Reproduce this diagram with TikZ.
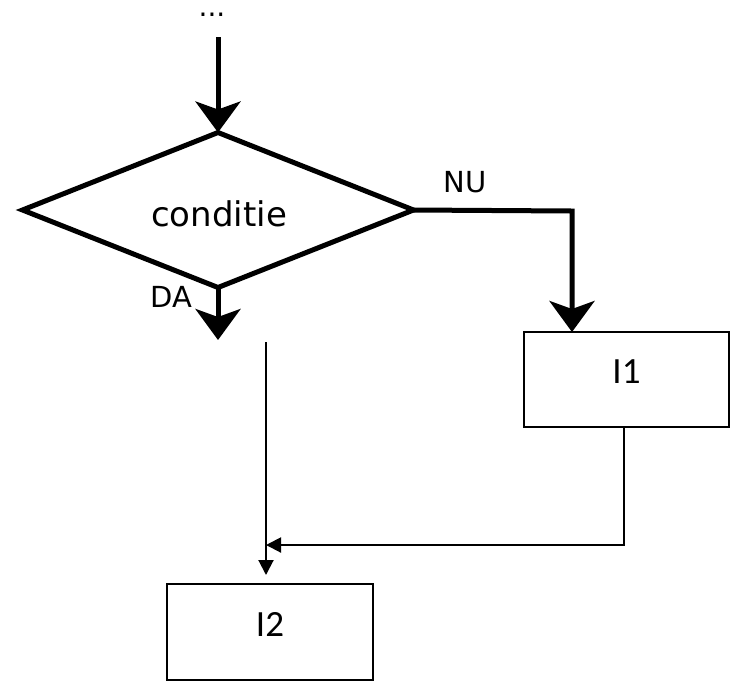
\documentclass[tikz,border=0pt]{standalone}
\usepackage{fontspec}
\setmainfont{DejaVu Sans}
\newfontfamily\boxfont{Carlito}
\usetikzlibrary{arrows.meta,shapes.geometric}
\begin{document}
\begin{tikzpicture}[x=1pt,y=-1pt,
  flowline/.style={line width=5pt},
  bighead/.style={-{Stealth[length=31pt,width=45pt,inset=8pt]}},
  thinline/.style={line width=2pt,-{Triangle[length=15pt,width=15pt]}},
  decision/.style={diamond, draw, line width=5pt, minimum width=391pt,
    minimum height=155pt, inner sep=0pt, outer sep=0pt,
    font=\fontsize{34}{38}\selectfont},
  stepbox/.style={rectangle, draw, line width=2pt, inner sep=0pt, outer sep=0pt,
    text depth=16pt, font=\boxfont\fontsize{37}{42}\selectfont},
  lbl/.style={font=\fontsize{29}{34}\selectfont, inner sep=0pt}]
\useasboundingbox (0,0) rectangle (730,681);

% continuation mark above the decision
\node[font=\fontsize{28}{32}\selectfont, inner sep=0pt, text height=5pt,
  anchor=base] (dots) at (212,16.5) {...};

% decision and the two instruction blocks
\node[decision] (cond) at (218,210) {};
\node[font=\fontsize{34}{38}\selectfont, inner sep=0pt] (condtext) at (219,214) {conditie};
\node[stepbox, minimum width=205pt, minimum height=95pt] (i1) at (626.5,379.5) {I1};
\node[stepbox, minimum width=206pt, minimum height=96pt] (i2) at (270,632) {I2};

% branch labels
\node[lbl] (da) at (171,297) {DA};
\node[lbl] (nu) at (465,182) {NU};

% free ends and bends of the connectors
\coordinate (start) at (218,37);
\coordinate (daend) at (218,340);
\coordinate (nuturn) at (572,211);
\coordinate (ytop) at (266,342);
\coordinate (merge) at (266,545);

% thick flow arrows
\draw[flowline,bighead] (start) -- (cond.north);
\draw[flowline,bighead] (cond.south) -- (daend);
\draw[flowline,bighead] (cond.east) -- (nuturn) -- (nuturn |- i1.north);

% thin joining arrows
\draw[thinline, shorten >=9pt] (ytop) -- (ytop |- i2.north);
\draw[thinline] ([xshift=-3pt]i1.south) -- ([xshift=-3pt]i1.south |- merge) -- (merge);
\end{tikzpicture}
\end{document}
